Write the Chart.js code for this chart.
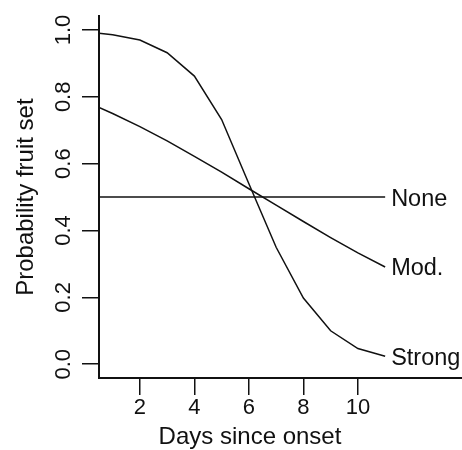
<!DOCTYPE html>
<html>
<head>
<meta charset="utf-8">
<title>Probability fruit set</title>
<script src="https://cdn.jsdelivr.net/npm/chart.js@4.4.1/dist/chart.umd.min.js"></script>
<style>
  html, body { margin: 0; padding: 0; background: #fff; }
  #chart { display: block; }
</style>
</head>
<body>
<canvas id="chart" width="462" height="450"></canvas>
<script>
// days since onset
const days = [0.5, 1, 2, 3, 4, 5, 6, 7, 8, 9, 10, 11];
// probability of fruit set per treatment
const noneValues   = [0.5, 0.5, 0.5, 0.5, 0.5, 0.5, 0.5, 0.5, 0.5, 0.5, 0.5, 0.5];
const modValues    = [0.768, 0.750, 0.711, 0.668, 0.622, 0.575, 0.525, 0.476, 0.427, 0.379, 0.333, 0.291];
const strongValues = [0.990, 0.986, 0.970, 0.932, 0.862, 0.732, 0.540, 0.350, 0.198, 0.100, 0.047, 0.024];
const seriesNames = ['None', 'Mod.', 'Strong'];

const xTicks = [2, 4, 6, 8, 10];
const yTicks = [0, 0.2, 0.4, 0.6, 0.8, 1.0];
const xTitle = 'Days since onset';
const yTitle = 'Probability fruit set';

const FONT = '"Liberation Sans", Arial, Helvetica, sans-serif';
const INK = '#111';

const toPoints = (vals) => days.map((d, i) => ({ x: d, y: vals[i] }));

const lineStyle = {
  borderColor: INK,
  borderWidth: 1.5,
  pointRadius: 0,
  tension: 0,
  fill: false
};

// labels at the right end of each line + the x axis title
const endLabels = {
  id: 'endLabels',
  afterDatasetsDraw(chart) {
    const { ctx, scales: { x, y } } = chart;
    ctx.save();
    ctx.fillStyle = INK;
    ctx.font = '23.5px ' + FONT;
    ctx.textAlign = 'left';
    ctx.textBaseline = 'middle';
    chart.data.datasets.forEach(ds => {
      const last = ds.data[ds.data.length - 1];
      ctx.fillText(ds.label, x.getPixelForValue(last.x) + 6, y.getPixelForValue(last.y) + 2);
    });
    ctx.font = '24px ' + FONT;
    ctx.textAlign = 'center';
    ctx.textBaseline = 'alphabetic';
    ctx.fillText(xTitle, 250, 444);
    ctx.restore();
  }
};

new Chart(document.getElementById('chart'), {
  type: 'line',
  data: {
    datasets: [
      { label: seriesNames[0], data: toPoints(noneValues), ...lineStyle },
      { label: seriesNames[1], data: toPoints(modValues), ...lineStyle },
      { label: seriesNames[2], data: toPoints(strongValues), ...lineStyle }
    ]
  },
  options: {
    responsive: false,
    animation: false,
    layout: { padding: { top: 10, right: 0, left: 0, bottom: 0 } },
    plugins: {
      legend: { display: false },
      tooltip: { enabled: false }
    },
    scales: {
      x: {
        type: 'linear',
        min: 0.5,
        max: 13.82,
        afterBuildTicks: s => { s.ticks = xTicks.map(v => ({ value: v })); },
        afterFit: s => { s.height = 72; },
        grid: { drawOnChartArea: false, drawTicks: true, tickLength: 17, color: INK, lineWidth: 1.5 },
        border: { display: true, color: INK, width: 2 },
        ticks: {
          color: INK,
          font: { family: FONT, size: 22 },
          padding: 0,
          maxRotation: 0,
          autoSkip: false
        }
      },
      y: {
        min: -0.0412,
        max: 1.0412,
        afterBuildTicks: s => { s.ticks = yTicks.map(v => ({ value: v })); },
        afterFit: s => { s.width = 99; },
        grid: { drawOnChartArea: false, drawTicks: true, tickLength: 17, color: INK, lineWidth: 1.5 },
        border: { display: true, color: INK, width: 2 },
        ticks: {
          color: INK,
          font: { family: FONT, size: 22 },
          padding: 3,
          minRotation: 90,
          maxRotation: 90,
          crossAlign: 'center',
          autoSkip: false,
          callback: v => v.toFixed(1)
        },
        title: {
          display: true,
          text: yTitle,
          color: INK,
          font: { family: FONT, size: 24 },
          padding: { top: 12, bottom: 0 }
        }
      }
    }
  },
  plugins: [endLabels]
});
</script>
</body>
</html>
